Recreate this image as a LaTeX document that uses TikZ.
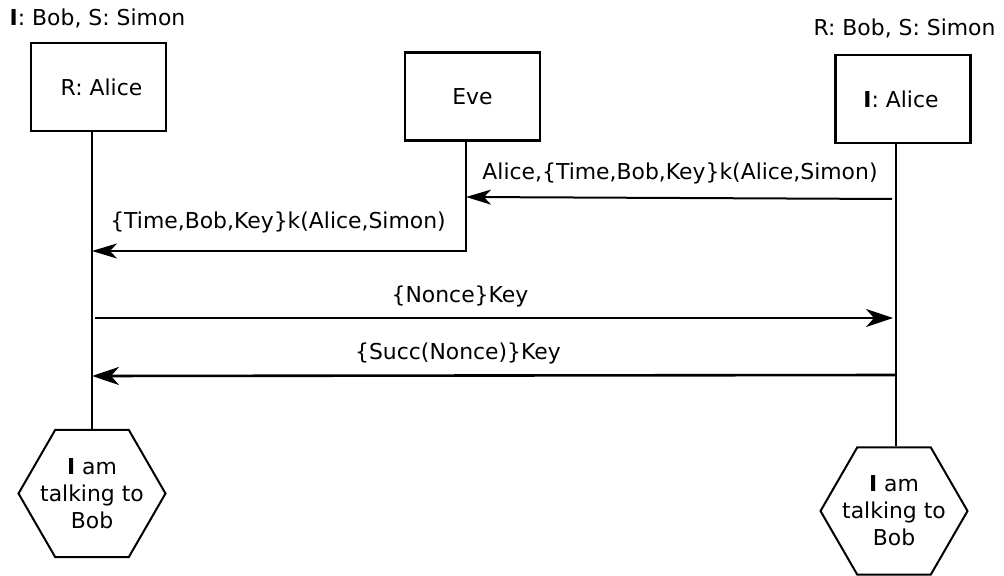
\documentclass[tikz,border=0pt]{standalone}
\usepackage{fontspec}
\setmainfont{DejaVu Sans}
\usetikzlibrary{arrows.meta,shapes.geometric}
\begin{document}
\begin{tikzpicture}[x=0.5pt,y=-0.5pt,
  every node/.style={font=\fontsize{10.95}{13.5}\selectfont},
  actor/.style={draw,line width=1.2pt,minimum width=67.5pt,minimum height=44pt,inner sep=0pt},
  outcome/.style={draw,line width=1pt,regular polygon,regular polygon sides=6,minimum size=73.5pt,inner sep=0pt},
  outtext/.style={align=center,inner sep=0pt},
  lifeline/.style={line width=1pt},
  msg/.style={line width=1pt,-{Stealth[length=12.5pt,width=7.5pt,inset=3.5pt]}},
  bigmsg/.style={line width=1.3pt,-{Stealth[length=13.5pt,width=9pt,inset=4pt]}},
  lbl/.style={anchor=base,inner sep=0pt}]
\useasboundingbox (0,0) rectangle (1004,576);

% participants
\node[actor] (alice) at (98.5,87) {\hspace*{3pt}R: Alice};
\node[actor] (eve) at (472.5,96.5) {Eve};
\node[actor] (bob) at (903,99) {\hspace*{-2pt}\textbf{I}: Alice};

% roles above the participants
\node[lbl] (roleL) at (97.5,26) {\textbf{I}: Bob, S: Simon};
\node[lbl] (roleR) at (904.5,36) {R: Bob, S: Simon};

% final beliefs
\node[outcome] (endL) at (92,493.5) {};
\node[outtext] (endLtext) at (endL.center) {\textbf{I} am\\talking to\\Bob};
\node[outcome] (endR) at (894,511) {};
\node[outtext] (endRtext) at (endR.center) {\textbf{I} am\\talking to\\Bob};

% lifelines
\coordinate (aliceTop) at (92,131);
\coordinate (bobTop) at (896,143);
\coordinate (eveTop) at (466,140);
\draw[lifeline] (aliceTop) -- (aliceTop |- endL.north);
\draw[lifeline] (bobTop) -- (bobTop |- endR.north);

% message end points
\coordinate (m1s) at (892,199);
\coordinate (m1e) at (466,197);
\coordinate (m2e) at (92,251);
\coordinate (m3s) at (95,318);
\coordinate (m3e) at (893,318);
\coordinate (m4s) at (896,375);
\coordinate (m4e) at (92,376);

% messages
\draw[msg] (m1s) -- (m1e);
\draw[msg] (eveTop) |- (m2e);
\draw[bigmsg] (m3s) -- (m3e);
\draw[bigmsg] (m4s) -- (m4e);

% message labels
\node[lbl] (l1) at (680,180) {Alice,\{Time,Bob,Key\}k(Alice,Simon)};
\node[lbl] (l2) at (278,229) {\{Time,Bob,Key\}k(Alice,Simon)};
\node[lbl] (l3) at (460,303) {\{Nonce\}Key};
\node[lbl] (l4) at (458,359) {\{Succ(Nonce)\}Key};
\end{tikzpicture}
\end{document}
